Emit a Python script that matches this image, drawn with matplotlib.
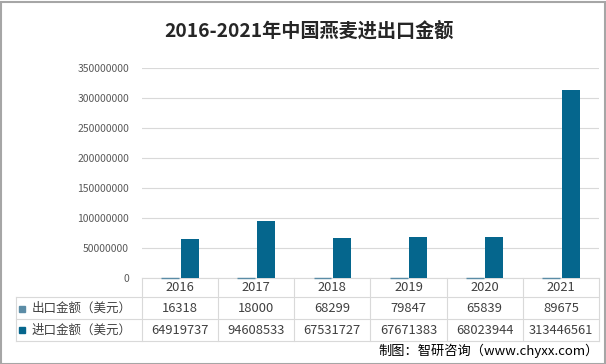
import matplotlib
matplotlib.use("Agg")
import matplotlib.pyplot as plt
import matplotlib.transforms as mtransforms
from matplotlib.patches import Rectangle
import numpy as np

plt.rcParams['font.family'] = ['Noto Sans CJK SC', 'DejaVu Sans']

years = ["2016", "2017", "2018", "2019", "2020", "2021"]
export_usd = [16318, 18000, 68299, 79847, 65839, 89675]
import_usd = [64919737, 94608533, 67531727, 67671383, 68023944, 313446561]
series_names = ["出口金额（美元）", "进口金额（美元）"]
y_ticks = [0, 50000000, 100000000, 150000000, 200000000, 250000000, 300000000, 350000000]

EXPORT_C = "#5b8ca6"
IMPORT_C = "#05668d"
GRID_C = "#d9d9d9"

W, H = 606, 364
fig = plt.figure(figsize=(W / 100, H / 100), dpi=100)

def fx(px): return px / W
def fy(py): return 1 - py / H

# plot area in pixel terms
left, right, top, bottom = 141.7, 599, 68.3, 278
ax = fig.add_axes([fx(left), fy(bottom), fx(right) - fx(left), fy(top) - fy(bottom)])

x = np.arange(len(years))
bw = 0.235
# export values are tiny next to imports; a thin edge keeps them visible like the original
exp_bars = ax.bar(x - 0.128, export_usd, bw, color=EXPORT_C, edgecolor=EXPORT_C,
                  linewidth=1.0, zorder=3)
for p in exp_bars:
    p.set_clip_on(False)
ax.bar(x + 0.128, import_usd, bw, color=IMPORT_C, zorder=3)

ax.set_xlim(-0.5, len(years) - 0.5)
ax.set_ylim(0, 350000000)
ax.set_yticks(y_ticks)
ax.set_yticklabels([str(v) for v in y_ticks], fontsize=7.5, color="#595959")
ax.tick_params(axis="y", length=0, pad=9)
ax.set_xticks([])
ax.grid(axis="y", color=GRID_C, linewidth=0.8, zorder=0)
for s in ax.spines.values():
    s.set_visible(False)

# data table under the axis
blend = mtransforms.blended_transform_factory(ax.transData, fig.transFigure)
rows_px = [278, 297, 319, 341]
line_kw = dict(color=GRID_C, linewidth=0.8)

ax.plot([-0.5, len(years) - 0.5], [fy(278)] * 2, transform=blend, clip_on=False, **line_kw)
for r in rows_px[1:]:
    fig.add_artist(plt.Line2D([fx(16), fx(right)], [fy(r)] * 2, **line_kw))
for b in np.arange(-0.5, len(years), 1.0):
    ax.plot([b, b], [fy(278), fy(341)], transform=blend, clip_on=False, **line_kw)
fig.add_artist(plt.Line2D([fx(16), fx(16)], [fy(297), fy(341)], **line_kw))

row_y = [fy(287.5), fy(308.5), fy(330)]
cell_kw = dict(transform=blend, ha="center", va="center", fontsize=9.3, color="#404040")
for i, yr in enumerate(years):
    ax.text(i, row_y[0], yr, **cell_kw)
    ax.text(i, row_y[1], str(export_usd[i]), **cell_kw)
    ax.text(i, row_y[2], str(import_usd[i]), **cell_kw)

for name, c, yy in zip(series_names, [EXPORT_C, IMPORT_C], row_y[1:]):
    fig.add_artist(Rectangle((fx(19), yy - 3 / H), 6 / W, 6 / H, color=c,
                             transform=fig.transFigure))
    fig.text(fx(32), yy, name, ha="left", va="center", fontsize=9, color="#404040")

fig.text(fx(309), fy(31), "2016-2021年中国燕麦进出口金额", ha="center", va="center",
         fontsize=13.8, fontweight="bold", color="#262626")
fig.text(fx(599), fy(351), "制图：智研咨询（www.chyxx.com）", ha="right", va="center",
         fontsize=9.5, color="#000000")

# outer frame
fig.add_artist(Rectangle((0.5 / W, 0.5 / H), 1 - 2 / W, 1 - 2 / H, fill=False,
                         edgecolor="#a6a6a6", linewidth=1.5, transform=fig.transFigure))

fig.savefig("out.png", dpi=100)
